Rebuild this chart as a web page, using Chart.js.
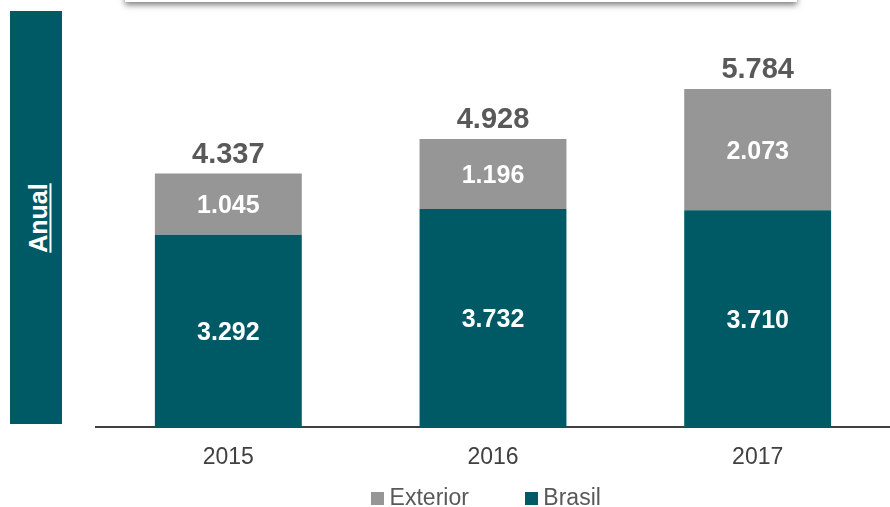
<!DOCTYPE html>
<html>
<head>
<meta charset="utf-8">
<script src="https://cdn.jsdelivr.net/npm/chart.js@4.4.1/dist/chart.umd.min.js"></script>
<style>
  html, body { margin: 0; padding: 0; background: #fff; }
  #wrap { position: relative; width: 890px; height: 507px; overflow: hidden; }
  #c { position: absolute; left: 0; top: 0; }
  #side { position: absolute; left: 10px; top: 11px; width: 52px; height: 413px; background: #005A66; }
  #side span { position: absolute; left: 28px; top: 207px; transform: translate(-50%, -50%) rotate(-90deg);
    color: #fff; font: bold 25px "Liberation Sans", Arial, sans-serif; text-decoration: underline;
    text-underline-offset: 3px; text-decoration-thickness: 2px; white-space: nowrap; }
  #topbox { position: absolute; left: 125px; top: -40px; width: 672px; height: 42px; background: #fff;
    box-shadow: 0 3px 6px rgba(0,0,0,0.5); }
</style>
</head>
<body>
<div id="wrap">
  <canvas id="c" width="890" height="507"></canvas>
  <div id="topbox"></div>
  <div id="side"><span>Anual</span></div>
</div>
<script>
const categories = ["2015", "2016", "2017"];
const brasil = [3292, 3732, 3710];
const exterior = [1045, 1196, 2073];
const totals = [4337, 4928, 5784];
const seriesNames = ["Brasil", "Exterior"];

const TEAL = '#005A66';
const GRAY = '#969696';
const FONT = '"Liberation Sans", Arial, sans-serif';
const LEGEND_PAD = 62;

function fmt(v) {
  const s = String(Math.round(v));
  return s.replace(/\B(?=(\d{3})+(?!\d))/g, '.');
}

function swatch(color) {
  const cv = document.createElement('canvas');
  cv.width = 13; cv.height = 13;
  const g = cv.getContext('2d');
  g.fillStyle = color; g.fillRect(0, 0, 13, 13);
  return cv;
}

const labelPlugin = {
  id: 'labels',
  beforeInit(chart) {
    const lg = chart.legend;
    if (lg) {
      const orig = lg.fit;
      lg.fit = function () { orig.call(this); this.height = 24; };
    }
  },
  afterLayout(chart) {
    const lg = chart.legend;
    if (lg) {
      const t = 497 - LEGEND_PAD - 10;
      lg.top = t;
      lg.bottom = chart.height;
      lg.height = chart.height - t;
      lg.left -= 4;
      lg.right -= 4;
    }
  },
  afterDatasetsDraw(chart) {
    const ctx = chart.ctx;
    ctx.save();
    ctx.textAlign = 'center';
    chart.data.datasets.forEach((ds, di) => {
      const meta = chart.getDatasetMeta(di);
      meta.data.forEach((bar, i) => {
        ctx.fillStyle = '#ffffff';
        ctx.font = 'bold 25px ' + FONT;
        ctx.textBaseline = 'middle';
        ctx.fillText(fmt(ds.data[i]), bar.x, (bar.y + bar.base) / 2 + 2);
      });
    });
    const topMeta = chart.getDatasetMeta(chart.data.datasets.length - 1);
    topMeta.data.forEach((bar, i) => {
      ctx.fillStyle = '#595959';
      ctx.font = 'bold 29px ' + FONT;
      ctx.textBaseline = 'alphabetic';
      ctx.fillText(fmt(totals[i]), bar.x, bar.y - 11);
    });
    ctx.restore();
  }
};

new Chart(document.getElementById('c'), {
  type: 'bar',
  data: {
    labels: categories,
    datasets: [
      { label: seriesNames[0], data: brasil, backgroundColor: TEAL, barPercentage: 0.555, categoryPercentage: 1.0 },
      { label: seriesNames[1], data: exterior, backgroundColor: GRAY, barPercentage: 0.555, categoryPercentage: 1.0 }
    ]
  },
  options: {
    responsive: false,
    animation: false,
    layout: { padding: { left: 96, right: 0, top: 18, bottom: 0 } },
    plugins: {
      legend: {
        position: 'bottom',
        reverse: true,
        labels: {
          usePointStyle: true, pointStyleWidth: 1, boxHeight: 13, padding: LEGEND_PAD,
          color: '#595959', font: { family: FONT, size: 23 },
          generateLabels(chart) {
            return chart.data.datasets.map((ds, i) => ({
              text: ds.label,
              fillStyle: ds.backgroundColor,
              strokeStyle: ds.backgroundColor,
              lineWidth: 0,
              fontColor: '#595959',
              pointStyle: swatch(ds.backgroundColor),
              hidden: false,
              datasetIndex: i
            }));
          }
        }
      },
      tooltip: { enabled: false }
    },
    scales: {
      x: {
        stacked: true,
        grid: { display: false, drawTicks: false },
        border: { display: true, color: '#404040', width: 2 },
        ticks: { color: '#404040', font: { family: FONT, size: 23 }, padding: 17 },
        afterFit(scale) { scale.height = 56; }
      },
      y: {
        stacked: true,
        display: false,
        min: 0, max: 7000
      }
    }
  },
  plugins: [labelPlugin]
});
</script>
</body>
</html>
